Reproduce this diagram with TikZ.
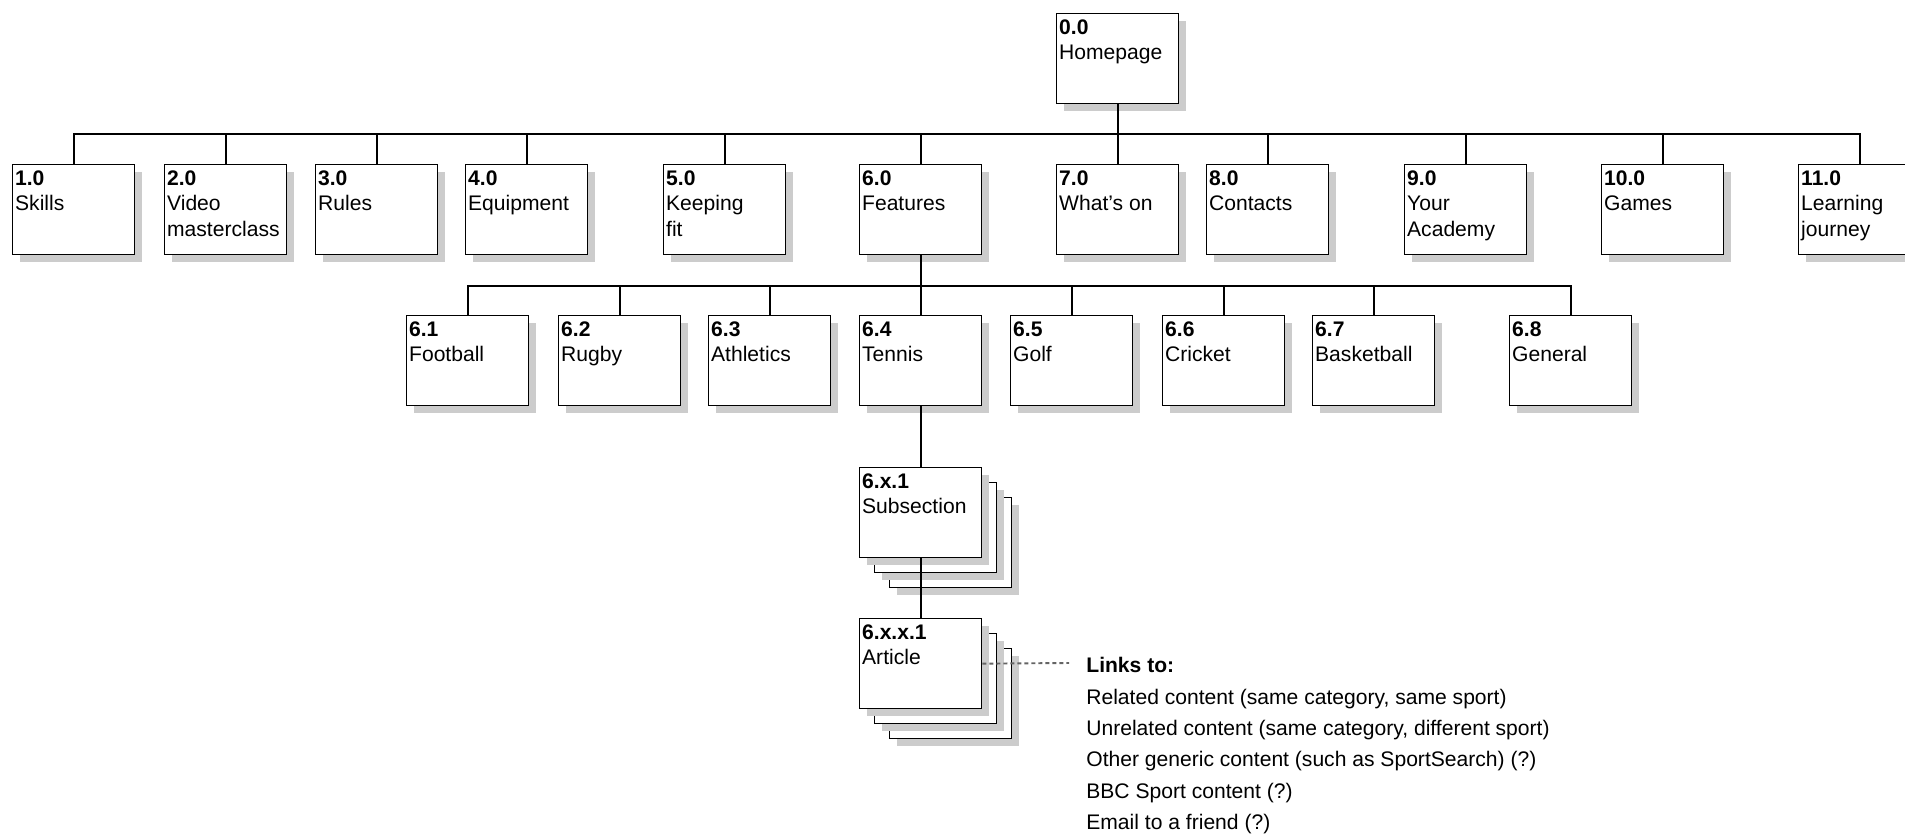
\documentclass[tikz,border=0pt]{standalone}
\usepackage{fontspec}
\setmainfont{Liberation Sans}
\usetikzlibrary{shadows}
\definecolor{shadowgrey}{RGB}{204,204,204}
\definecolor{linkgrey}{RGB}{100,100,100}
\tikzset{
  box/.style={draw, fill=white, line width=0.75pt, anchor=north west,
    inner xsep=0.05cm, inner ysep=0.12cm,
    minimum width=2.44cm, minimum height=1.8cm,
    font=\fontsize{12pt}{14.5pt}\selectfont,
    drop shadow={shadow xshift=0.15cm, shadow yshift=-0.15cm, fill=shadowgrey, opacity=1}
  },
  tree/.style={line width=1.3pt},
  linkline/.style={linkgrey, line width=1.1pt, dash pattern=on 0.08cm off 0.06cm}
}
\newcommand{\boxtext}[2]{\parbox[t][1.56cm][t]{2.34cm}{\raggedright\textbf{#1}\\#2}}

\begin{document}
\begin{tikzpicture}[x=0.02cm, y=0.02cm]
      \useasboundingbox (0,0) rectangle (1905,835);
      % homepage
      \node[box] (n00) at (1056,822) {\boxtext{0.0}{Homepage}};
      % level 1
      \node[box] (n10) at (12,671) {\boxtext{1.0}{Skills}};
      \node[box] (n20) at (164,671) {\boxtext{2.0}{Video\\masterclass}};
      \node[box] (n30) at (315,671) {\boxtext{3.0}{Rules}};
      \node[box] (n40) at (465,671) {\boxtext{4.0}{Equipment}};
      \node[box] (n50) at (663,671) {\boxtext{5.0}{Keeping\\fit}};
      \node[box] (n60) at (859,671) {\boxtext{6.0}{Features}};
      \node[box] (n70) at (1056,671) {\boxtext{7.0}{What's on}};
      \node[box] (n80) at (1206,671) {\boxtext{8.0}{Contacts}};
      \node[box] (n90) at (1404,671) {\boxtext{9.0}{Your\\Academy}};
      \node[box] (n100) at (1601,671) {\boxtext{10.0}{Games}};
      \node[box] (n110) at (1798,671) {\boxtext{11.0}{Learning\\journey}};
      % level 2
      \node[box] (n61) at (406,520) {\boxtext{6.1}{Football}};
      \node[box] (n62) at (558,520) {\boxtext{6.2}{Rugby}};
      \node[box] (n63) at (708,520) {\boxtext{6.3}{Athletics}};
      \node[box] (n64) at (859,520) {\boxtext{6.4}{Tennis}};
      \node[box] (n65) at (1010,520) {\boxtext{6.5}{Golf}};
      \node[box] (n66) at (1162,520) {\boxtext{6.6}{Cricket}};
      \node[box] (n67) at (1312,520) {\boxtext{6.7}{Basketball}};
      \node[box] (n68) at (1509,520) {\boxtext{6.8}{General}};
      % subsection stack
      \node[box] (n6x1c) at (889,338) {};
      \node[box] (n6x1b) at (874,353) {};
      \node[box] (n6x1) at (859,368) {\boxtext{6.x.1}{Subsection}};
      % article stack
      \node[box] (n6xx1c) at (889,187) {};
      \node[box] (n6xx1b) at (874,202) {};
      \node[box] (n6xx1) at (859,217) {\boxtext{6.x.x.1}{Article}};
      % links
      \node[anchor=north west, inner sep=0, align=left,
        font=\fontsize{12pt}{17.9pt}\selectfont] (links) at (1086,178)
        {\textbf{Links to:}\\
         Related content (same category, same sport)\\
         Unrelated content (same category, different sport)\\
         Other generic content (such as SportSearch) (?)\\
         BBC Sport content (?)\\
         Email to a friend (?)};
      \coordinate (linkend) at (1069,172);
      % connectors
      \draw[tree] (n00.south) -- (n70.north);
      \draw[tree] (n10.north) -- ++(0,30) -| (n110.north);
      \foreach \n in {n20,n30,n40,n50,n60,n80,n90,n100}
        \draw[tree] (\n.north) -- ++(0,30);
      \draw[tree] (n60.south) -- (n64.north);
      \draw[tree] (n61.north) -- ++(0,29) -| (n68.north);
      \foreach \n in {n62,n63,n65,n66,n67}
        \draw[tree] (\n.north) -- ++(0,29);
      \draw[tree] (n64.south) -- (n6x1.north);
      \draw[tree] (n6x1.south) -- (n6xx1.north);
      \draw[linkline] (n6xx1.east) -- (linkend);
\end{tikzpicture}
\end{document}
